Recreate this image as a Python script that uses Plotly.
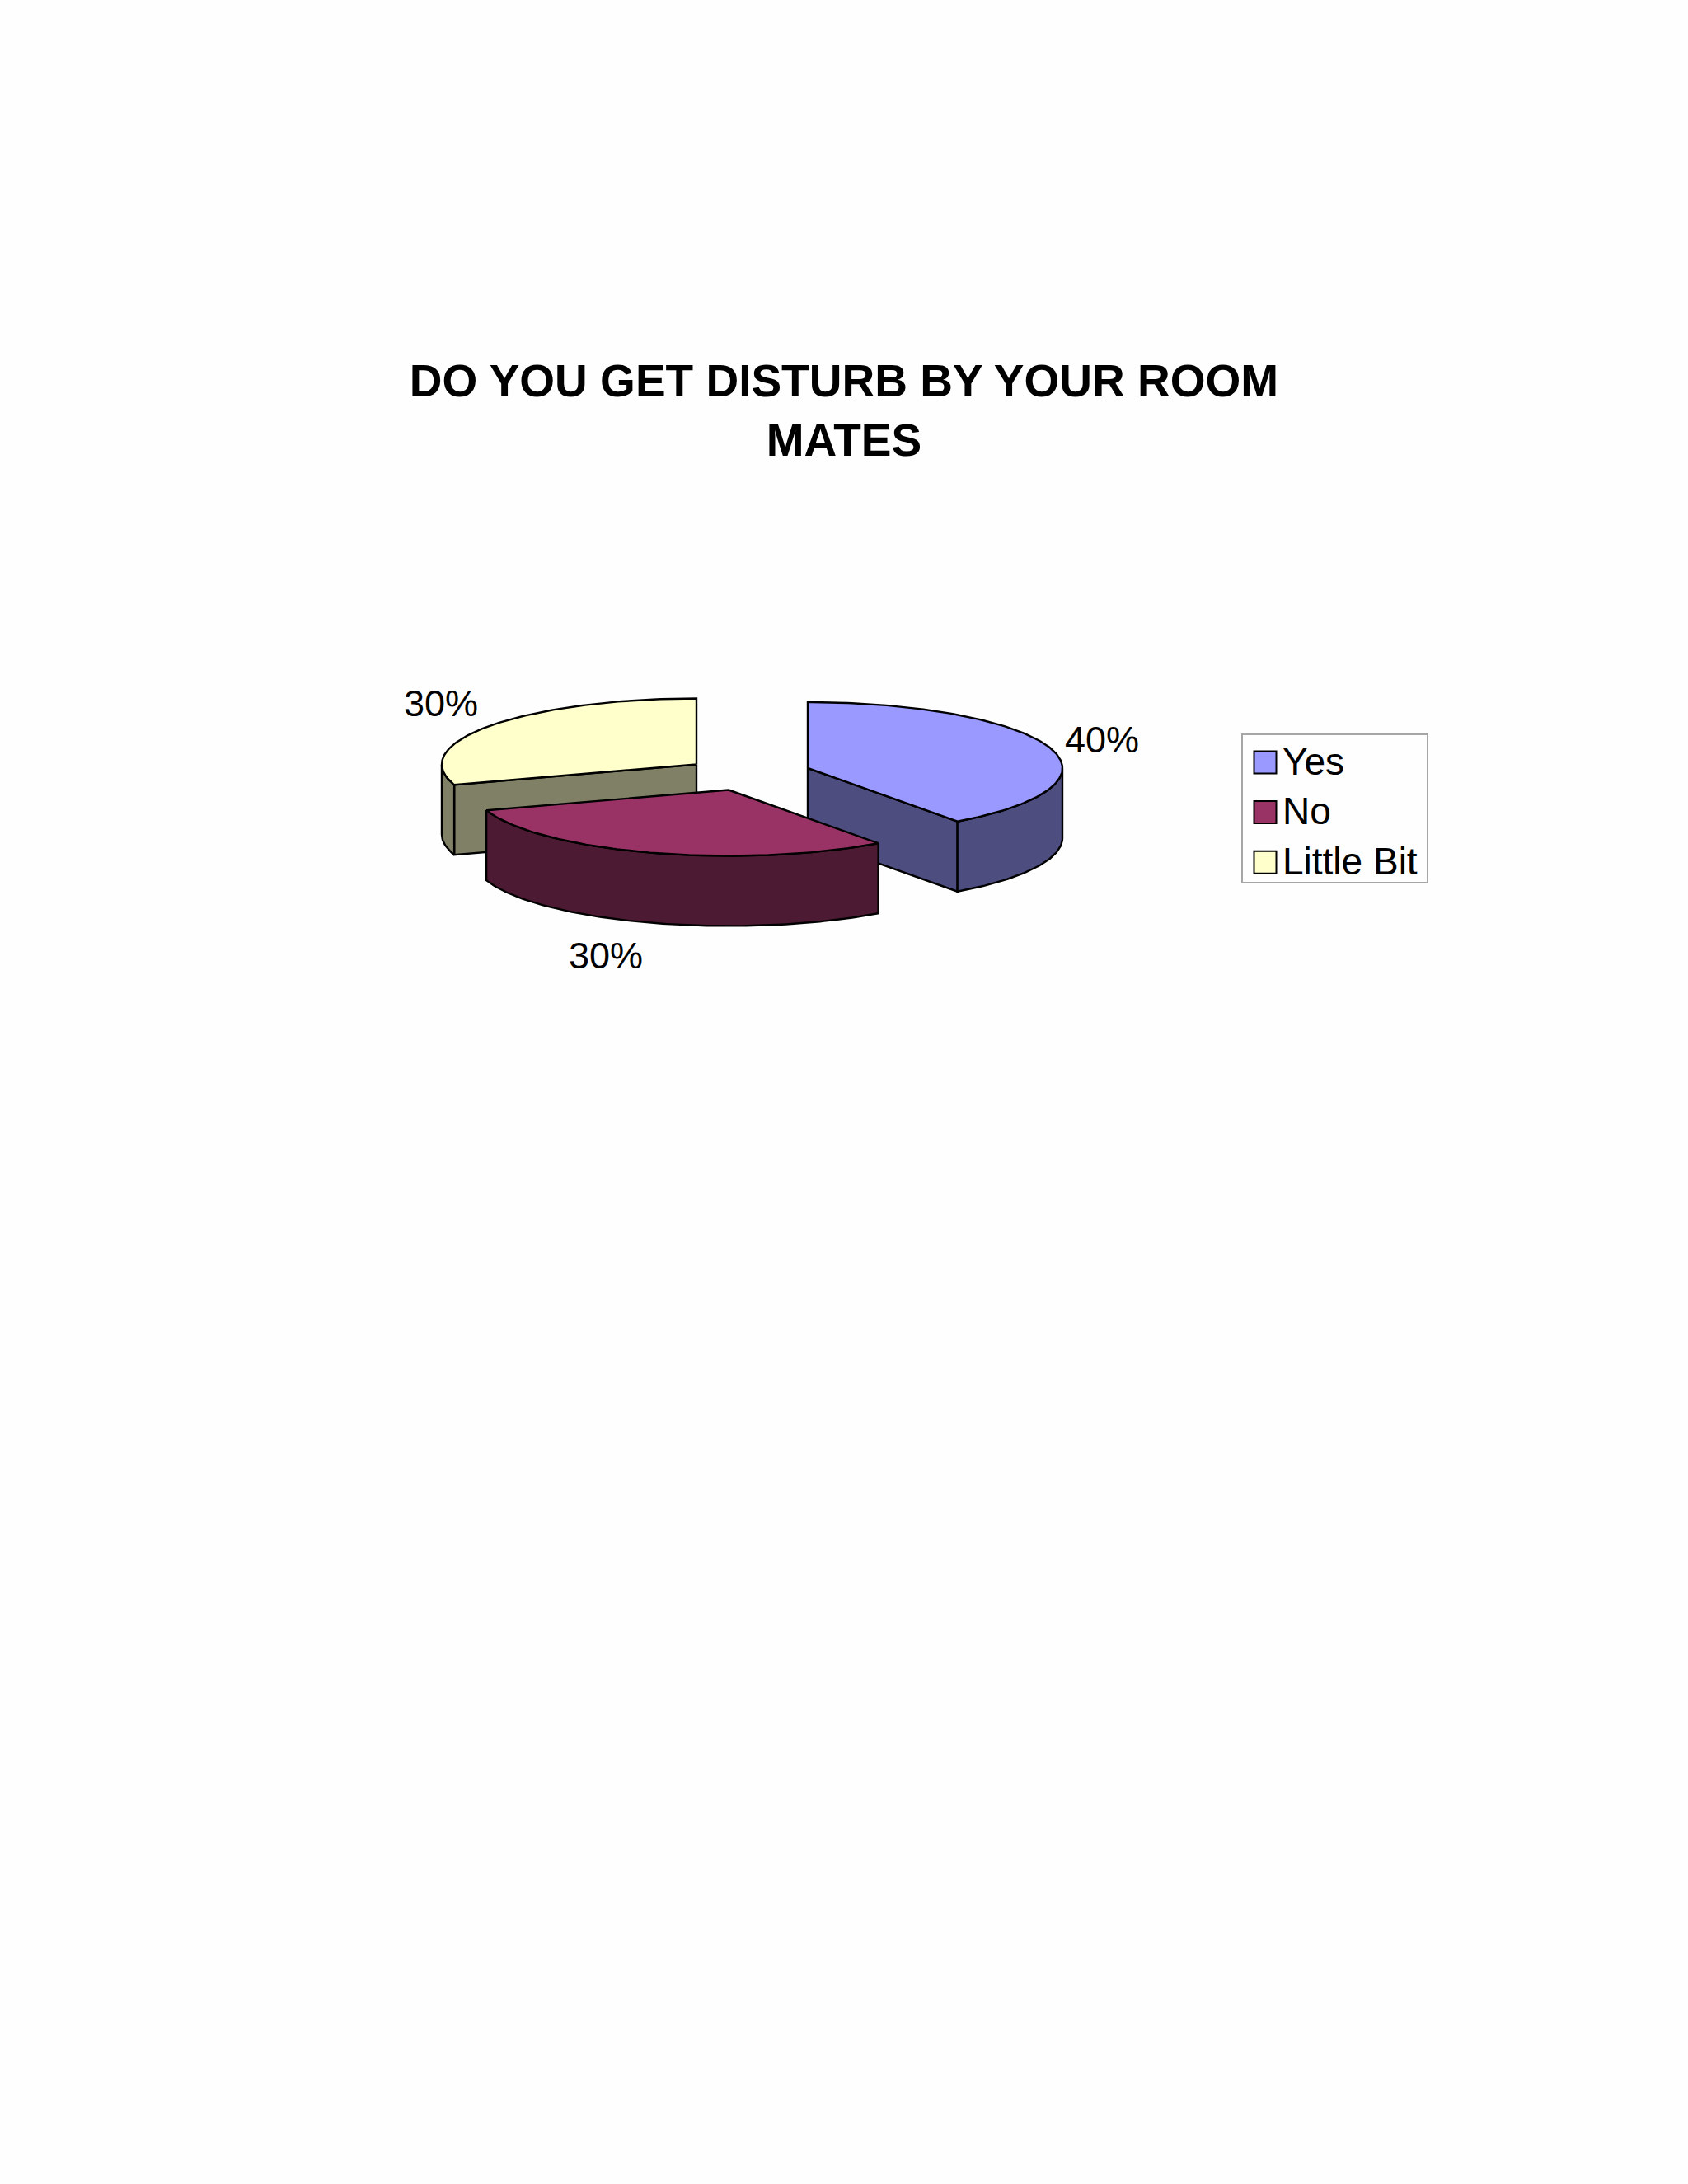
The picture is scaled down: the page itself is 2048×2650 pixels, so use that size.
import math
import plotly.graph_objects as go

categories = ["Yes", "No", "Little Bit"]
values = [40, 30, 30]
top_colors = ["#9999FF", "#993366", "#FFFFCC"]
side_colors = ["#4D4D80", "#4D1A33", "#808066"]
title_text = "DO YOU GET DISTURB BY YOUR ROOM<br>MATES"

W, H = 2048, 2650
FONT = "Liberation Sans"
RX, RY, DEPTH = 309, 80, 85
centers = [(980, 932), (884, 958.5), (845, 927.5)]
label_pos = [(1337, 897), (735, 1159), (535, 853)]
draw_order = [2, 0, 1]
LINE = dict(color="#000000", width=2.4)


def rim(c, a, dz=0):
    t = math.radians(a)
    return c[0] + RX * math.sin(t), c[1] - RY * math.cos(t) + dz


def arc(c, a0, a1, dz=0):
    n = max(2, int(abs(a1 - a0)) + 1)
    return [rim(c, a0 + (a1 - a0) * i / (n - 1), dz) for i in range(n)]


fig = go.Figure()


def poly(pts, color):
    fig.add_trace(go.Scatter(
        x=[p[0] for p in pts] + [pts[0][0]],
        y=[p[1] for p in pts] + [pts[0][1]],
        mode="lines", fill="toself", fillcolor=color, line=LINE,
        hoverinfo="skip", showlegend=False))


total = sum(values)
spans, acc = [], 0
for v in values:
    spans.append((acc, acc + v / total * 360))
    acc += v / total * 360

for i in draw_order:
    c = centers[i]
    a0, a1 = spans[i]
    side = side_colors[i]
    if 0 < a1 < 180:
        poly([c, rim(c, a1), rim(c, a1, DEPTH), (c[0], c[1] + DEPTH)], side)
    if 180 < a0 < 360:
        poly([c, rim(c, a0), rim(c, a0, DEPTH), (c[0], c[1] + DEPTH)], side)
    w0, w1 = max(a0, 90), min(a1, 270)
    if w1 > w0:
        poly(arc(c, w0, w1) + arc(c, w1, w0, DEPTH), side)
    poly([c] + arc(c, a0, a1), top_colors[i])

# Value labels
for i, v in enumerate(values):
    fig.add_annotation(x=label_pos[i][0], y=label_pos[i][1], text=f"{v}%",
                       showarrow=False, font=dict(family=FONT, size=45, color="#000000"))

# Legend
LEG_X0, LEG_X1, LEG_Y0, LEG_Y1 = 1507, 1732, 891, 1071
fig.add_shape(type="rect", x0=LEG_X0, x1=LEG_X1, y0=LEG_Y0, y1=LEG_Y1,
              line=dict(color="#A6A6A6", width=2), fillcolor="rgba(0,0,0,0)")
fig.add_trace(go.Scatter(
    x=[1535] * 3, y=[925 + 60.6 * i for i in range(3)],
    mode="markers",
    marker=dict(symbol="square", size=27, color=top_colors, line=dict(color="#000000", width=2)),
    cliponaxis=False, hoverinfo="skip", showlegend=False))
fig.add_trace(go.Scatter(
    x=[1556] * 3, y=[928 + 60.6 * i for i in range(3)],
    mode="text", text=categories,
    textposition="middle right", cliponaxis=False,
    textfont=dict(family=FONT, size=46, color="#000000"),
    hoverinfo="skip", showlegend=False))

fig.update_layout(
    width=W, height=H, margin=dict(l=0, r=0, t=0, b=0),
    paper_bgcolor="#FEFEFE", plot_bgcolor="rgba(0,0,0,0)", showlegend=False,
    title=dict(text=title_text, x=1024 / W, xanchor="center", y=1 - 481 / H, yanchor="top",
               font=dict(family=FONT, size=55, color="#000000", weight="bold")),
    xaxis=dict(range=[0, W], visible=False, fixedrange=True),
    yaxis=dict(range=[H, 0], visible=False, fixedrange=True),
)
fig.write_html("out.html", config={"displayModeBar": False},
               post_script="document.body.style.margin='0';")
